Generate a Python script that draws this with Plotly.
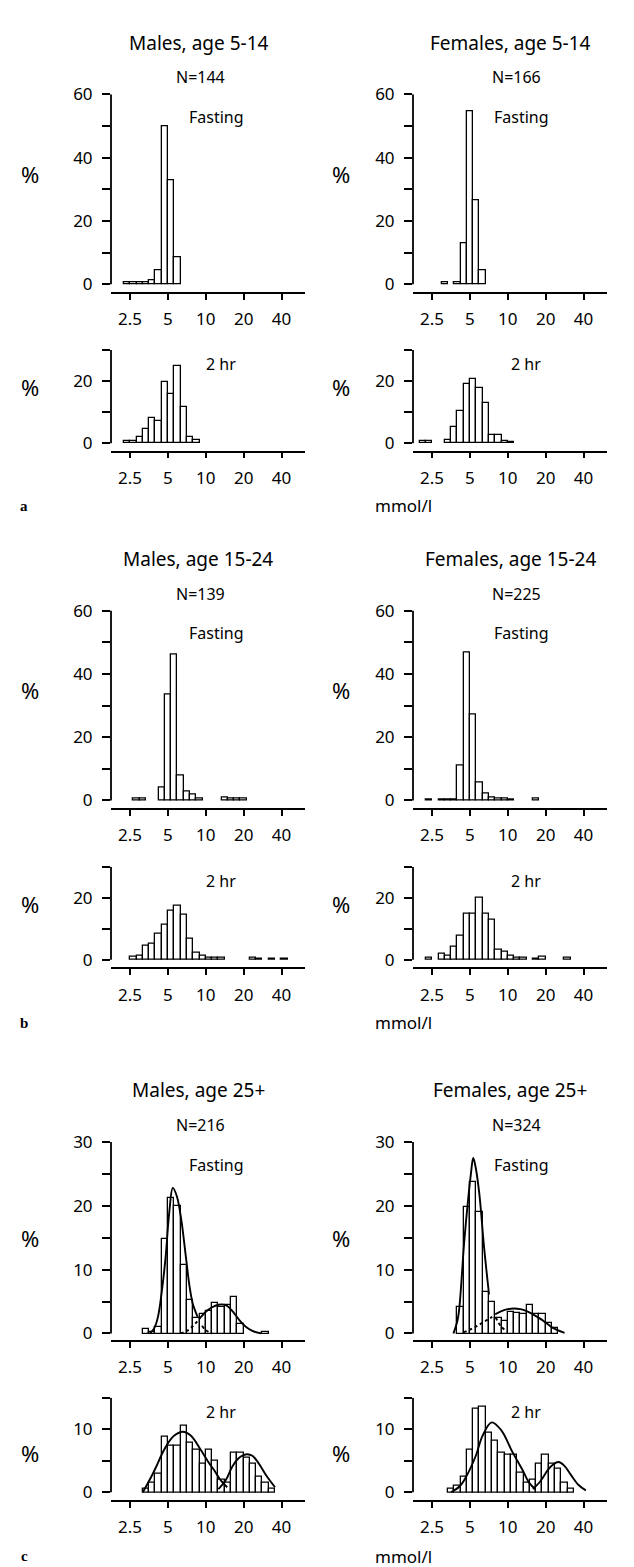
import math
import plotly.graph_objects as go

W, H = 634, 1567
BIN = 0.05  # histogram bin width, log10(mmol/l)

# ---------------- data: first bin lower edge (log10 mmol/l) + heights (%) ----
a_m_fast_start = 0.35
a_m_fast = [0.7, 0.7, 0.7, 0.7, 1.4, 4.5, 50, 33, 8.5]
a_f_fast_start = 0.475
a_f_fast = [0.6, 0, 0.6, 13.1, 54.5, 26.5, 4.3]
a_m_2hr_start = 0.35
a_m_2hr = [0.5, 0.75, 1.8, 4.4, 8.2, 7.2, 19.7, 15.7, 24.7, 11.7, 1.8, 1.0]
a_f_2hr_start = 0.30
a_f_2hr = [0.6, 0.6, 0, 0, 1.0, 5.3, 10.2, 18.9, 20.8, 17.6, 12.8, 2.6, 2.6, 0.5, 0.4]

b_m_fast_start = 0.425
b_m_fast = [0.7, 0.7, 0, 0, 4.0, 33.4, 46.1, 8.0, 2.7, 1.9, 0.5, 0, 0, 0, 1.0, 0.7, 0.7, 0.7]
b_f_fast_start = 0.35
b_f_fast = [0.4, 0, 0.4, 0.4, 0.4, 11.1, 46.8, 27.0, 5.5, 2.1, 0.9, 0.5, 0.5, 0.4, 0, 0, 0, 0.5]
b_m_2hr_start = 0.40
b_m_2hr = [0.9, 1.4, 4.4, 5.2, 8.4, 11.4, 15.8, 17.3, 14.6, 6.8, 2.3, 1.2, 0.5, 0.5, 0.7,
           0, 0, 0, 0, 0.7, 0.4, 0, 0.4, 0, 0.4]
b_f_2hr_start = 0.35
b_f_2hr = [0.6, 0, 1.9, 1.4, 4.1, 7.8, 15.0, 15.0, 20.0, 15.0, 12.9, 3.2, 2.6, 1.4, 0.6, 0.6,
           0, 0.4, 0.9, 0, 0, 0, 0.6]

c_m_fast_start = 0.50
c_m_fast = [0.7, 0.3, 1.0, 14.8, 21.2, 19.9, 10.8, 5.3, 2.4, 3.1, 3.5, 4.8, 4.1, 4.5, 5.8, 1.5,
            0, 0, 0, 0.3]
c_f_fast_start = 0.60
c_f_fast = [4.1, 19.8, 23.7, 19.0, 6.5, 4.9, 2.5, 1.9, 3.3, 3.2, 3.0, 4.4, 3.0, 3.0, 1.6, 0.8]
c_m_2hr_start = 0.50
c_m_2hr = [0.5, 1.5, 3.0, 8.8, 7.4, 7.4, 10.6, 7.9, 6.8, 4.5, 6.8, 5.0, 2.0, 1.5, 6.3, 6.3,
           5.5, 4.5, 2.5, 1.5, 0.5]
c_f_2hr_start = 0.525
c_f_2hr = [0.5, 1.0, 2.5, 6.8, 13.3, 13.6, 9.5, 8.1, 6.3, 6.0, 6.0, 3.1, 1.5, 2.0, 4.5, 6.0,
           4.6, 3.7, 1.5, 0.5]

# fitted curves: x = log10(mmol/l), y = %
c_m_fast_c1_x = [0.555, 0.59, 0.62, 0.65, 0.68, 0.71, 0.738, 0.77, 0.804, 0.843, 0.87, 0.896, 0.935, 0.97, 1.0, 1.05]
c_m_fast_c1_y = [0, 0.8, 2.6, 6.5, 11.8, 19, 22.8, 21.5, 18, 11.8, 7.5, 4.7, 2.6, 1.2, 0.5, 0]
c_m_fast_c2_x = [0.80, 0.85, 0.9, 0.95, 1.0, 1.05, 1.1, 1.13, 1.17, 1.22, 1.27, 1.32, 1.37, 1.44]
c_m_fast_c2_y = [0.0, 0.4, 1.2, 2.3, 3.4, 4.1, 4.5, 4.55, 4.3, 3.3, 2.0, 1.0, 0.4, 0]
c_f_fast_c1_x = [0.568, 0.60, 0.615, 0.654, 0.685, 0.707, 0.725, 0.74, 0.772, 0.812, 0.851, 0.904, 0.95, 1.0]
c_f_fast_c1_y = [0, 2, 4, 14.4, 21, 25, 27.5, 26.5, 22.2, 13.4, 6.1, 2.5, 1.0, 0.3]
c_f_fast_c2_x = [0.65, 0.70, 0.75, 0.80, 0.86, 0.90, 0.95, 1.0, 1.05, 1.10, 1.15, 1.2, 1.25, 1.294, 1.34, 1.386, 1.451]
c_f_fast_c2_y = [0.2, 0.6, 1.1, 1.7, 2.4, 3.0, 3.5, 3.8, 3.9, 3.8, 3.5, 3.0, 2.4, 1.8, 1.1, 0.6, 0.1]
c_m_2hr_c1_x = [0.50, 0.568, 0.607, 0.65, 0.70, 0.75, 0.817, 0.88, 0.961, 1.02, 1.067, 1.119, 1.17]
c_m_2hr_c1_y = [0, 2.5, 4.1, 6.0, 7.8, 9.0, 9.6, 9.0, 6.7, 4.8, 3.5, 1.9, 0.8]
c_m_2hr_c2_x = [1.10, 1.158, 1.211, 1.26, 1.30, 1.329, 1.37, 1.42, 1.486, 1.55]
c_m_2hr_c2_y = [0.5, 1.9, 4.1, 5.4, 5.9, 6.05, 5.8, 4.6, 2.5, 0.8]
c_f_2hr_c1_x = [0.55, 0.62, 0.667, 0.746, 0.80, 0.872, 0.95, 1.034, 1.113, 1.17, 1.22]
c_f_2hr_c1_y = [0, 1.0, 2.4, 5.8, 9.0, 11.1, 9.8, 6.5, 3.7, 1.5, 0.5]
c_f_2hr_c2_x = [1.2, 1.26, 1.32, 1.36, 1.402, 1.45, 1.50, 1.56, 1.62]
c_f_2hr_c2_y = [0.5, 1.8, 3.6, 4.4, 4.8, 4.2, 2.8, 1.2, 0.3]

x_tick_vals = [2.5, 5, 10, 20, 40]
x_tick_text = ["2.5", "5", "10", "20", "40"]

titles = [("Males, age 5-14", "N=144", "Females, age 5-14", "N=166"),
          ("Males, age 15-24", "N=139", "Females, age 15-24", "N=225"),
          ("Males, age 25+", "N=216", "Females, age 25+", "N=324")]
section_letters = ["a", "b", "c"]

# ---------------- layout geometry (pixels) ----------------
XR = [0.247, 1.788]
cols = [(103, 297), (405, 599)]
# (top_px at ymax, zero_px, axis_px, ymax, dtick, minor, "%" position as fraction from top)
rows = [(75, 267, 274.5, 60, 20, 10, 0.42),
        (333.5, 427.5, 435, 30, 20, 10, 0.40),
        (596.7, 788.5, 796, 60, 20, 10, 0.42),
        (855.5, 949.5, 957, 30, 20, 10, 0.40),
        (1133.5, 1327, 1333.5, 30, 10, 5, 0.50),
        (1392, 1487.5, 1495, 15, 10, 5, 0.58)]

# curve styling: (x, y, dashed-below-x, dashed-above-x)
panels = [  # (row, col, start, heights, curves)
    (0, 0, a_m_fast_start, a_m_fast, []),
    (0, 1, a_f_fast_start, a_f_fast, []),
    (1, 0, a_m_2hr_start, a_m_2hr, []),
    (1, 1, a_f_2hr_start, a_f_2hr, []),
    (2, 0, b_m_fast_start, b_m_fast, []),
    (2, 1, b_f_fast_start, b_f_fast, []),
    (3, 0, b_m_2hr_start, b_m_2hr, []),
    (3, 1, b_f_2hr_start, b_f_2hr, []),
    (4, 0, c_m_fast_start, c_m_fast, [(c_m_fast_c1_x, c_m_fast_c1_y, None, 0.95),
                                      (c_m_fast_c2_x, c_m_fast_c2_y, 0.95, None)]),
    (4, 1, c_f_fast_start, c_f_fast, [(c_f_fast_c1_x, c_f_fast_c1_y, None, 0.90),
                                      (c_f_fast_c2_x, c_f_fast_c2_y, 0.90, None)]),
    (5, 0, c_m_2hr_start, c_m_2hr, [(c_m_2hr_c1_x, c_m_2hr_c1_y, None, None),
                                    (c_m_2hr_c2_x, c_m_2hr_c2_y, None, None)]),
    (5, 1, c_f_2hr_start, c_f_2hr, [(c_f_2hr_c1_x, c_f_2hr_c1_y, None, None),
                                    (c_f_2hr_c2_x, c_f_2hr_c2_y, None, None)]),
]

FONT = "Noto Sans"
fig = go.Figure()
shapes = []
annotations = []


def px(x):
    return x / W


def py(y):
    return 1 - y / H


def note(text, x, y, size, family=FONT):
    annotations.append(dict(text=text, x=px(x), y=py(y), xref="paper", yref="paper",
                            xanchor="center", yanchor="middle", showarrow=False,
                            font=dict(family=family, size=size, color="black")))


def add_line(x, y, xa, ya, dash):
    if len(x) < 2:
        return
    fig.add_trace(go.Scatter(x=x, y=y, mode="lines", xaxis=xa, yaxis=ya,
                             line=dict(color="black", width=1.9, shape="spline", dash=dash),
                             showlegend=False, hoverinfo="skip"))


for i, (r, c, start, heights, curves) in enumerate(panels):
    n = i + 1
    xa = "x" if n == 1 else f"x{n}"
    ya = "y" if n == 1 else f"y{n}"
    top, zero, axis, ymax, dtick, minor, pct = rows[r]
    x0, x1 = cols[c]
    scale = (zero - top) / ymax
    ymin = -(axis - zero) / scale
    xs = [start + BIN * (k + 0.5) for k, h in enumerate(heights) if h > 0]
    ys = [h for h in heights if h > 0]
    fig.add_trace(go.Bar(x=xs, y=ys, width=BIN, xaxis=xa, yaxis=ya,
                         marker=dict(color="white", line=dict(color="black", width=1.3)),
                         showlegend=False))
    for cx, cy, dlo, dhi in curves:
        lo = dlo if dlo is not None else -1
        hi = dhi if dhi is not None else 9
        solid = [(a, b) for a, b in zip(cx, cy) if lo <= a <= hi]
        left = [(a, b) for a, b in zip(cx, cy) if a <= lo]
        right = [(a, b) for a, b in zip(cx, cy) if a >= hi]
        add_line([p[0] for p in solid], [p[1] for p in solid], xa, ya, "solid")
        add_line([p[0] for p in left], [p[1] for p in left], xa, ya, "3px,3px")
        add_line([p[0] for p in right], [p[1] for p in right], xa, ya, "3px,3px")
    fig.layout[f"xaxis{n if n > 1 else ''}"] = dict(
        domain=[px(x0), px(x1)], range=XR, anchor=ya,
        tickvals=[math.log10(v) for v in x_tick_vals], ticktext=x_tick_text,
        showline=True, linecolor="black", linewidth=1.8, ticks="outside", ticklen=6,
        tickwidth=1.8, tickcolor="black", showgrid=False, zeroline=False,
        tickfont=dict(family=FONT, size=17, color="black"), ticklabelstandoff=5)
    fig.layout[f"yaxis{n if n > 1 else ''}"] = dict(
        domain=[py(axis), py(top)], range=[ymin, ymax], anchor=xa,
        tick0=0, dtick=dtick, showline=False, ticks="outside", ticklen=8, tickwidth=1.8,
        tickcolor="black", showgrid=False, zeroline=False,
        minor=dict(dtick=minor, ticks="outside", ticklen=8, tickwidth=1.8, tickcolor="black"),
        tickfont=dict(family=FONT, size=17, color="black"), ticklabelstandoff=6)
    shapes.append(dict(type="line", xref=f"{xa} domain", yref=ya, x0=0, x1=0, y0=0, y1=ymax,
                       line=dict(color="black", width=1.8)))

    note("%", 22 if c == 0 else 333, top + pct * (zero - top), 22)
    if r % 2 == 0:
        note("Fasting", 208 if c == 0 else 513, top + 23, 16)
    else:
        note("2 hr", 213 if c == 0 else 518, top + 14, 16)

section_top = [75, 596.7, 1133.5]
section_bottom = [491, 1013, 1552]
for s in range(3):
    tm, nm, tf, nf = titles[s]
    t = section_top[s]
    note(tm, 190, t - 52, 19)
    note(tf, 502, t - 52, 19)
    note(nm, 192, t - 17, 16)
    note(nf, 508, t - 17, 16)
    note("mmol/l", 395, section_bottom[s], 17)
    note("<b>" + section_letters[s] + "</b>", 16, section_bottom[s], 15, "Liberation Serif")

fig.update_layout(width=W, height=H, margin=dict(l=0, r=0, t=0, b=0),
                  paper_bgcolor="white", plot_bgcolor="white", bargap=0,
                  shapes=shapes, annotations=annotations)
fig.write_html("out.html")
